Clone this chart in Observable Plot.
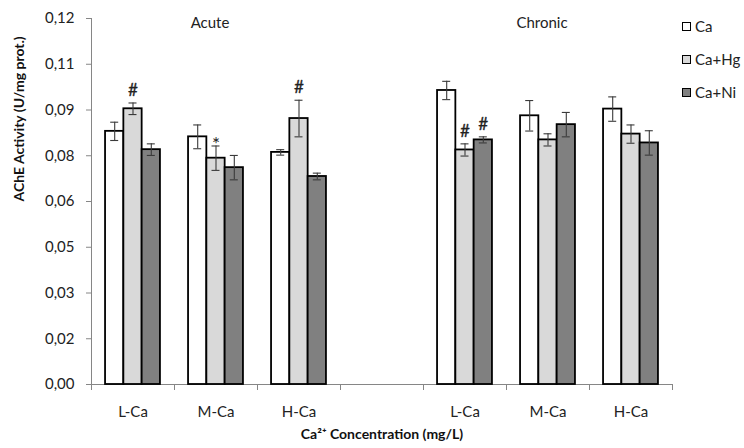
<!DOCTYPE html>
<html>
<head>
<meta charset="utf-8">
<script src="https://cdn.jsdelivr.net/npm/d3@7"></script>
<script src="https://cdn.jsdelivr.net/npm/@observablehq/plot@0.6"></script>
<style>
  html, body { margin: 0; padding: 0; background: #fff; }
  #wrap { position: relative; width: 744px; height: 448px; font-family: Lato, "Open Sans", sans-serif; }
  #legend { position: absolute; left: 682px; top: 17px; font-size: 15px; color: #222; }
  .row { display: flex; align-items: center; height: 18px; margin-bottom: 15px; }
  .sw { width: 7px; height: 7px; border: 1.5px solid #000; margin-right: 4px; }
</style>
</head>
<body>
<div id="wrap"><div id="legend"></div></div>
<script>
// ---- data ----
const slots = ["A-L", "A-M", "A-H", "gap", "C-L", "C-M", "C-H"];
const slotLabels = ["L-Ca", "M-Ca", "H-Ca", "", "L-Ca", "M-Ca", "H-Ca"];
const groups = ["A-L", "A-M", "A-H", "C-L", "C-M", "C-H"];
const series = ["Ca", "Ca+Hg", "Ca+Ni"];
const seriesFill = ["#ffffff", "#d9d9d9", "#808080"];

const caMean   = [0.0830, 0.0812, 0.0761, 0.0964, 0.0881, 0.0903];
const caErr    = [0.0030, 0.0039, 0.0009, 0.0030, 0.0050, 0.0040];
const caHgMean = [0.0904, 0.0742, 0.0872, 0.0769, 0.0802, 0.0821];
const caHgErr  = [0.0019, 0.0040, 0.0060, 0.0020, 0.0020, 0.0030];
const caNiMean = [0.0770, 0.0711, 0.0682, 0.0802, 0.0852, 0.0792];
const caNiErr  = [0.0019, 0.0040, 0.0011, 0.0010, 0.0040, 0.0040];

const periods = ["Acute", "Chronic"];
const periodSlots = ["A-M", "C-M"];

// significance marks: group, series index, symbol
const sigGroup  = ["A-L", "A-M", "A-H", "C-L", "C-L"];
const sigSeries = [1, 1, 1, 1, 2];
const sigText   = ["#", "*", "#", "#", "#"];

const yTicks = [0, 0.015, 0.03, 0.045, 0.06, 0.075, 0.09, 0.105, 0.12];
const yTickLabels = ["0,00", "0,02", "0,03", "0,05", "0,06", "0,08", "0,09", "0,11", "0,12"];

const yLabel = "AChE Activity (U/mg prot.)";
const xLabel = "Ca²⁺ Concentration (mg/L)";

// ---- build rows ----
const means = [caMean, caHgMean, caNiMean];
const errs = [caErr, caHgErr, caNiErr];
const rows = [];
series.forEach((s, i) => groups.forEach((g, j) => rows.push({slot: g, si: i, value: means[i][j], err: errs[i][j]})));
const sig = sigGroup.map((g, k) => {
  const r = rows.find(d => d.slot === g && d.si === sigSeries[k]);
  return {slot: g, si: sigSeries[k], y: r.value + r.err, text: sigText[k]};
});

// ---- layout ----
const W = 744, H = 448, mL = 91, mR = 72, mT = 18, mB = 64;
const band = (W - mL - mR) / slots.length;
const barW = 18.3;
const barInset = (band - barW) / 2;
const capInset = (band - 8) / 2;
const axisColor = "#868686";

const marks = [];
series.forEach((s, i) => {
  const data = rows.filter(d => d.si === i);
  const dx = (i - 1) * barW;
  marks.push(Plot.barY(data, {x: "slot", y: "value", fill: seriesFill[i], stroke: "#000", strokeWidth: 1.8,
    insetLeft: barInset, insetRight: barInset, dx}));
});
series.forEach((s, i) => {
  const data = rows.filter(d => d.si === i);
  const dx = (i - 1) * barW;
  const st = {stroke: "#3a3a3a", strokeWidth: 1.1};
  marks.push(Plot.ruleX(data, {x: "slot", y1: d => d.value - d.err, y2: d => d.value + d.err, dx, ...st}));
  marks.push(Plot.tickY(data, {x: "slot", y: d => d.value + d.err, insetLeft: capInset, insetRight: capInset, dx, ...st}));
  marks.push(Plot.tickY(data, {x: "slot", y: d => d.value - d.err, insetLeft: capInset, insetRight: capInset, dx, ...st}));
  const hash = sig.filter(d => d.si === i && d.text === "#");
  const star = sig.filter(d => d.si === i && d.text === "*");
  if (hash.length) marks.push(Plot.text(hash, {x: "slot", y: "y", text: "text", dx, lineAnchor: "bottom",
    dy: -7, fontSize: 17, fill: "#222", stroke: "#222", strokeWidth: 0.3}));
  if (star.length) marks.push(Plot.text(star, {x: "slot", y: "y", text: "text", dx, lineAnchor: "bottom",
    dy: 5, fontSize: 19, fill: "#222"}));
});

const plot = Plot.plot({
  width: W, height: H,
  marginLeft: mL, marginRight: mR, marginTop: mT, marginBottom: mB,
  style: {fontFamily: "Lato, 'Open Sans', sans-serif", background: "#fff", color: "#222"},
  x: {type: "band", domain: slots, padding: 0, axis: null},
  y: {domain: [0, 0.12], axis: null},
  marks: [
    Plot.axisY({ticks: yTicks, tickFormat: d => yTickLabels[yTicks.indexOf(d)], tickSize: 5, tickPadding: 12,
      stroke: axisColor, fontSize: 15, fill: "#222", label: null}),
    Plot.axisX({tickSize: 0, tickPadding: 22, tickFormat: d => slotLabels[slots.indexOf(d)], fontSize: 15, fill: "#222", label: null}),
    Plot.ruleX([slots[0]], {x: d => d, y1: 0, y2: 0.12, dx: -band / 2, stroke: axisColor}),
    Plot.ruleY([0], {stroke: axisColor}),
    Plot.ruleX(slots, {x: d => d, y1: 0, y2: 0, insetBottom: -6, dx: -band / 2, stroke: axisColor}),
    Plot.ruleX([slots[slots.length - 1]], {x: d => d, y1: 0, y2: 0, insetBottom: -6, dx: band / 2, stroke: axisColor}),
    ...marks,
    Plot.text(periods.map((p, i) => ({p, slot: periodSlots[i]})), {x: "slot", y: 0.12, text: "p", dy: 5, dx: -6, fontSize: 15, fill: "#222"}),
    Plot.text([yLabel], {frameAnchor: "left", rotate: -90, dx: -72, text: d => d, fontSize: 14, fontWeight: "bold", fill: "#111"}),
    Plot.text([xLabel], {frameAnchor: "bottom", dy: 54, text: d => d, fontSize: 14, fontWeight: "bold", fill: "#111"})
  ]
});
const wrap = document.getElementById("wrap");
wrap.insertBefore(plot, wrap.firstChild);

const legend = document.getElementById("legend");
series.forEach((s, i) => {
  const row = document.createElement("div");
  row.className = "row";
  const sw = document.createElement("div");
  sw.className = "sw";
  sw.style.background = seriesFill[i];
  const t = document.createElement("span");
  t.textContent = s;
  row.appendChild(sw); row.appendChild(t);
  legend.appendChild(row);
});
</script>
</body>
</html>
